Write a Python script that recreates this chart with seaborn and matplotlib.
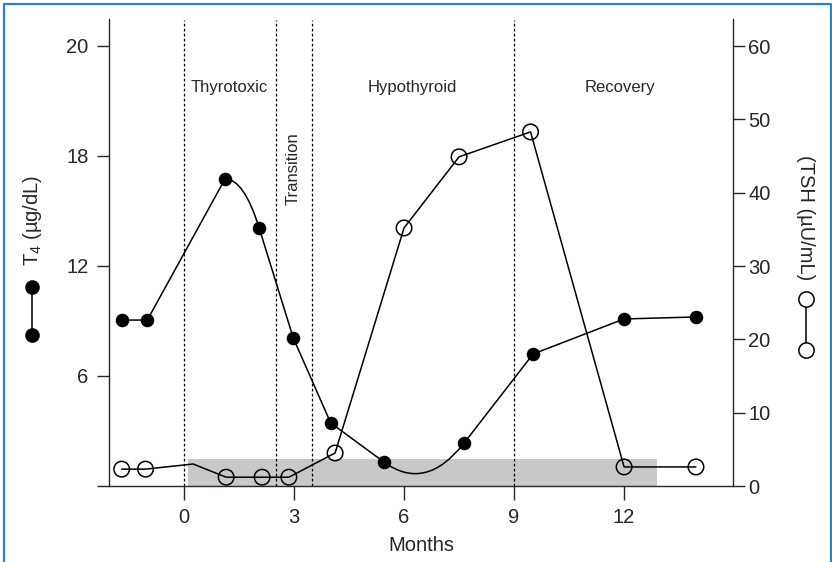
import numpy as np
import matplotlib
matplotlib.use("Agg")
import matplotlib.pyplot as plt
import seaborn as sns
from matplotlib.path import Path
from matplotlib.patches import PathPatch, Rectangle
from matplotlib.lines import Line2D

# ---------------- data ----------------
t4_months = np.array([-1.7, -1.0, 1.12, 2.05, 2.98, 4.0, 5.45, 7.64, 9.52, 12.0, 13.96])
t4_values = np.array([9.05, 9.05, 16.75, 14.07, 8.07, 3.44, 1.31, 2.35, 7.2, 9.11, 9.22])

tsh_months = np.array([-1.7, -1.05, 0.25, 1.15, 2.13, 2.86, 4.12, 6.0, 7.5, 9.45, 12.0, 13.96])
tsh_values = np.array([2.3, 2.3, 3.0, 1.2, 1.2, 1.2, 4.5, 35.2, 44.9, 48.3, 2.6, 2.6])
tsh_marked = np.array([True, True, False, True, True, True, True, True, True, True, True, True])

phase_bounds = [0, 2.5, 3.5, 9]
phase_labels = ["Thyrotoxic", "Hypothyroid", "Recovery"]
phase_label_x = [1.23, 6.22, 11.9]
transition_label = "Transition"
transition_x = 2.97

normal_band_x = [0.1, 12.9]
normal_band_tsh = 3.68

x_ticks = [0, 3, 6, 9, 12]
t4_ticks = [0, 6, 12, 18, 20]
t4_ticklabels = ["", "6", "12", "18", "20"]
tsh_ticks = [0, 10, 20, 30, 40, 50, 60]

# T4 segments drawn with a bend (style of the original hand-drawn curve)
t4_bends = {2: "flat", 6: "continue"}

# ---------------- style ----------------
sns.set_style("ticks")
plt.rcParams["font.family"] = ["Liberation Sans", "DejaVu Sans"]
plt.rcParams["mathtext.fontset"] = "custom"
plt.rcParams["mathtext.rm"] = "Liberation Sans"
plt.rcParams["mathtext.it"] = "Liberation Sans"
plt.rcParams["axes.linewidth"] = 1.0

TICK_FS = 14.5
LAB_FS = 14.5
REG_FS = 12

fig = plt.figure(figsize=(8.32, 5.62), dpi=100)
W, H = 832, 562
ax = fig.add_axes([109 / W, 1 - 486 / H, (733 - 109) / W, (486 - 19) / H])
ax2 = ax.twinx()
ax.set_zorder(ax2.get_zorder() + 1)
ax.patch.set_visible(False)

# piecewise-linear T4 scale (0, 6, 12, 18, 20 equally spaced)
_bp_v = np.array([-60.0, 0, 6, 12, 18, 20, 220])
_bp_u = np.array([-10.0, 0, 1, 2, 3, 4, 104])


def fwd(v):
    return np.interp(v, _bp_v, _bp_u)


def inv(u):
    return np.interp(u, _bp_u, _bp_v)


ax.set_yscale("function", functions=(fwd, inv))

# ---------------- TSH (right axis) ----------------
ax2.add_patch(Rectangle((normal_band_x[0], 0), normal_band_x[1] - normal_band_x[0],
                        normal_band_tsh, facecolor="#c7c8c9", edgecolor="none", zorder=0))
sns.lineplot(x=tsh_months, y=tsh_values, ax=ax2, sort=False, estimator=None,
             color="black", linewidth=1.1, zorder=2)
sns.scatterplot(x=tsh_months[tsh_marked], y=tsh_values[tsh_marked], ax=ax2,
                marker="o", s=125, color="black", linewidth=1.1, zorder=3)
coll = ax2.collections[-1]
coll.set_facecolor("none")
coll.set_edgecolor("black")
coll.set_linewidth(1.1)

# ---------------- T4 (left axis) ----------------
U = fwd(t4_values)
P = np.column_stack([t4_months, U])
verts = [P[0]]
codes = [Path.MOVETO]
for i in range(len(P) - 1):
    if i in t4_bends:
        if t4_bends[i] == "flat":
            d0 = np.array([1.0, 0.0])
        else:
            d0 = P[i] - P[i - 1]
        d1 = P[i + 2] - P[i + 1]
        A = np.column_stack([d0, d1])
        s, t = np.linalg.solve(A, P[i + 1] - P[i])
        c = P[i] + s * d0
        verts += [c, P[i + 1]]
        codes += [Path.CURVE3, Path.CURVE3]
    else:
        verts.append(P[i + 1])
        codes.append(Path.LINETO)
verts = np.array(verts)
verts_data = np.column_stack([verts[:, 0], inv(verts[:, 1])])
ax.add_patch(PathPatch(Path(verts_data, codes), facecolor="none", edgecolor="black",
                       linewidth=1.1, zorder=3))
sns.scatterplot(x=t4_months, y=t4_values, ax=ax, marker="o", s=95, color="black",
                edgecolor="black", linewidth=0, zorder=4)

# phase boundaries
for b in phase_bounds:
    ax.axvline(b, color="black", linestyle=(0, (2.2, 1.8)), linewidth=0.9, zorder=1,
               ymax=(486 - 20) / (486 - 19))

for lab, x in zip(phase_labels, phase_label_x):
    ax.text(x, 0.854, lab, transform=ax.get_xaxis_transform(), ha="center", va="center",
            fontsize=REG_FS)
ax.text(transition_x, 0.68, transition_label, transform=ax.get_xaxis_transform(),
        ha="center", va="center", rotation=90, fontsize=REG_FS)

# ---------------- axes ----------------
ax.set_xlim(-2.045, 14.97)
ax.set_ylim(0, 20.49)
ax2.set_ylim(0, 63.7)

ax.set_xticks(x_ticks)
ax.set_xticklabels([str(v) for v in x_ticks])
ax.set_yticks(t4_ticks)
ax.set_yticklabels(t4_ticklabels)
ax.yaxis.set_minor_locator(matplotlib.ticker.NullLocator())
ax2.set_yticks(tsh_ticks)
ax2.set_yticklabels([str(v) for v in tsh_ticks])

ax.set_xlabel("Months", fontsize=LAB_FS, labelpad=6)
ax.set_ylabel("")
ax2.set_ylabel("")

for a in (ax, ax2):
    a.spines["top"].set_visible(False)
ax.spines["right"].set_visible(False)
ax2.spines["left"].set_visible(False)
ax2.spines["bottom"].set_visible(False)

ax.tick_params(axis="y", direction="out", length=8.6, width=1.0, pad=6, labelsize=TICK_FS)
ax.tick_params(axis="x", direction="out", length=10, width=1.0, pad=6, labelsize=TICK_FS)
ax2.tick_params(axis="y", direction="out", length=8.6, width=1.0, pad=2.5, labelsize=TICK_FS)

# ---------------- side labels with legend glyphs ----------------
fig.text(32 / W, 1 - 220 / H, "T$_4$ (µg/dL)", rotation=90, ha="center", va="center",
         fontsize=LAB_FS)
fig.add_artist(Line2D([32 / W, 32 / W], [1 - 287 / H, 1 - 335 / H], color="black",
                      linewidth=1.1, marker="o", markersize=9.5, markerfacecolor="black",
                      markeredgecolor="black", transform=fig.transFigure))
fig.text(806 / W, 1 - 218 / H, "(TSH (µU/mL)", rotation=270, ha="center", va="center",
         fontsize=LAB_FS)
fig.add_artist(Line2D([806 / W, 806 / W], [1 - 299 / H, 1 - 350 / H], color="black",
                      linewidth=1.1, marker="o", markersize=11, markerfacecolor="white",
                      markeredgecolor="black", markeredgewidth=1.1,
                      transform=fig.transFigure))

# figure frame (top, left, right)
frame_c = "#2186c6"
fig.add_artist(Line2D([4 / W, 4 / W, 831 / W, 831 / W], [0, 1 - 4 / H, 1 - 4 / H, 0],
                      color=frame_c, linewidth=1.6, transform=fig.transFigure))

fig.savefig("out.png", dpi=100)
